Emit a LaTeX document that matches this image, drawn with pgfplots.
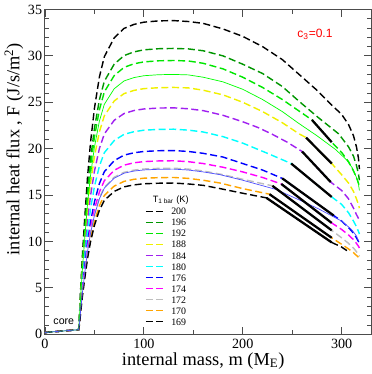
\documentclass[border=0pt]{standalone}
\usepackage{fontspec}
\setmainfont{Liberation Serif}
\setsansfont{Liberation Sans}
\usepackage{pgfplots}
\pgfplotsset{compat=1.18}

\definecolor{cdkgreen}{RGB}{0,150,0}
\definecolor{cgreen}{RGB}{0,230,0}
\definecolor{clime}{RGB}{0,255,0}
\definecolor{cyellow}{RGB}{240,240,0}
\definecolor{cviolet}{RGB}{160,32,240}
\definecolor{ccyan}{RGB}{0,255,255}
\definecolor{cblue}{RGB}{0,0,255}
\definecolor{cmagenta}{RGB}{255,0,255}
\definecolor{cgray}{RGB}{190,190,190}
\definecolor{corange}{RGB}{255,165,0}
\definecolor{cltblue}{RGB}{80,80,255}

\pgfplotsset{
  dsh/.style={dash pattern=on 5pt off 2.5pt, line width=1pt},
  seg/.style={black, line width=1.6pt, forget plot},
}

\begin{document}
\begin{tikzpicture}
\begin{axis}[
    width=231pt, height=230pt, scale only axis,
    xmin=0, xmax=330, ymin=0, ymax=35,
    xtick={0,100,200,300}, minor x tick num=1,
    ytick={0,5,10,15,20,25,30,35}, minor y tick num=4,
    tick align=inside,
    major tick length=5.5pt, minor tick length=3pt,
    axis line style={gray!60!black, line width=0.7pt},
    tick style={gray!60!black, line width=0.6pt},
    /pgf/number format/assume math mode=true,
    tick label style={font=\fontsize{10}{12}\selectfont},
    yticklabel style={xshift=1.5pt},
    label style={font=\fontsize{13}{15}\selectfont},
    xlabel={internal mass, m (M\textsubscript{E})},
    ylabel={internal heat flux , F (J/s/m\textsuperscript{2})},
    xlabel style={at={(axis description cs:0.485,-0.082)}, anchor=center},
    ylabel style={at={(axis description cs:-0.095,0.57)}, anchor=center},
    legend style={at={(axis cs:101,13.7)}, anchor=north west, draw=none, fill=none,
        font=\fontsize{7}{8}\selectfont, inner sep=0pt, row sep=2pt,
        nodes={inner sep=0.5pt, text height=4.8pt, text depth=0pt},
        /tikz/every odd column/.append style={column sep=5pt}},
    legend cell align=left,
    legend image code/.code={\draw[#1] (0pt,0pt) -- (12pt,0pt);},
    clip=false,
]
% T = 200
\addplot[black, dsh] coordinates {
(0,0.2)(34,0.5)(35,2.37)(36,4.73)(38,8.79)(40,12.17)(43,16.9)(46,20.62)(50,24.34)(55,27.72)(60,29.91)(70,31.94)(80,32.96)(90,33.39)(100,33.63)(115,33.77)(130,33.8)
(145,33.7)(160,33.5)(180,32.9)(200,32.1)(220,31.0)(240,29.6)(257,28.0)(275,26.3)(290,24.7)(300,23.7)(307,22.6)(312,21.4)(315,20.2)(317,19.0)(318,17.8)
};
\addlegendentry{200}
% T = 196
\addplot[cdkgreen, dsh] coordinates {
(0,0.2)(34,0.5)(35,2.16)(36,4.31)(38,8.01)(40,11.09)(43,15.4)(46,18.79)(50,22.18)(55,25.26)(60,27.26)(70,29.11)(80,30.03)(90,30.43)(100,30.65)(115,30.77)(130,30.8)
(145,30.75)(160,30.55)(180,30.0)(200,29.1)(220,28.1)(240,26.7)(257,25.1)(277,23.3)(297,21.6)(307,20.2)(312,19.2)(315,18.2)(317,17.3)(318,16.6)
};
\addlegendentry{196}
% T = 192
\addplot[cgreen, dsh] coordinates {
(0,0.2)(34,0.5)(35,2.07)(36,4.13)(38,7.67)(40,10.62)(43,14.75)(46,18.0)(50,21.24)(55,24.19)(60,26.11)(70,27.88)(80,28.76)(90,29.15)(100,29.35)(115,29.47)(130,29.5)
(145,29.45)(160,29.2)(180,28.6)(200,27.7)(220,26.6)(240,25.3)(255,24.2)(270,23.1)(290,20.7)(300,19.6)(307,18.6)(312,17.6)(315,16.9)(317,16.3)(318,15.9)
};
\addlegendentry{192}
% T = 188
\addplot[cyellow, dsh] coordinates {
(0,0.2)(34,0.5)(35,1.86)(36,3.72)(38,6.92)(40,9.58)(43,13.3)(46,16.23)(50,19.15)(55,21.81)(60,23.54)(70,25.14)(80,25.94)(90,26.28)(100,26.47)(115,26.57)(130,26.6)
(145,26.55)(160,26.3)(180,25.8)(200,25.0)(220,24.0)(240,22.8)(257,21.6)(264,21.2)(290,18.4)(300,17.2)(307,16.3)(312,15.4)(315,14.6)(317,14.0)(318,13.6)
};
\addlegendentry{188}
% T = 184
\addplot[cviolet, dsh] coordinates {
(0,0.2)(34,0.5)(35,1.71)(36,3.42)(38,6.34)(40,8.78)(43,12.2)(46,14.88)(50,17.57)(55,20.01)(60,21.59)(70,23.06)(80,23.79)(90,24.11)(100,24.28)(115,24.38)(130,24.4)
(145,24.3)(160,24.1)(180,23.6)(200,22.9)(215,22.3)(229,21.6)(245,20.7)(260,19.7)(289,16.4)(300,15.5)(307,14.6)(312,13.6)(315,12.9)(317,12.5)(318,12.2)
};
\addlegendentry{184}
% T = 180
\addplot[ccyan, dsh] coordinates {
(0,0.2)(34,0.5)(35,1.55)(36,3.09)(38,5.75)(40,7.96)(43,11.05)(46,13.48)(50,15.91)(55,18.12)(60,19.56)(70,20.88)(80,21.55)(90,21.83)(100,21.99)(115,22.08)(130,22.1)
(145,22.0)(160,21.8)(180,21.3)(200,20.6)(225,19.5)(249,18.4)(290,14.8)(300,14.0)(307,13.1)(312,12.2)(315,11.6)(317,11.1)(318,10.8)
};
\addlegendentry{180}
% T = 176
\addplot[cblue, dsh] coordinates {
(0,0.2)(34,0.5)(35,1.39)(36,2.77)(38,5.15)(40,7.13)(43,9.9)(46,12.08)(50,14.26)(55,16.24)(60,17.52)(70,18.71)(80,19.31)(90,19.56)(100,19.7)(115,19.78)(130,19.8)
(145,19.7)(160,19.5)(180,19.1)(200,18.4)(220,17.7)(240,16.8)(292,12.8)(300,12.2)(307,11.5)(312,10.9)(315,10.4)(317,10.0)(318,9.8)
};
\addlegendentry{176}
% T = 174
\addplot[cmagenta, dsh] coordinates {
(0,0.2)(34,0.5)(35,1.31)(36,2.62)(38,4.86)(40,6.73)(43,9.35)(46,11.41)(50,13.46)(55,15.33)(60,16.55)(70,17.67)(80,18.23)(90,18.48)(100,18.61)(115,18.68)(130,18.7)
(145,18.6)(160,18.4)(180,18.0)(200,17.5)(220,16.9)(239,16.2)(290,12.0)(300,11.3)(307,10.7)(312,10.2)(315,9.8)(317,9.5)(318,9.3)
};
\addlegendentry{174}
% T = 172
\addplot[cgray, dsh] coordinates {
(0,0.2)(34,0.5)(35,1.25)(36,2.51)(38,4.65)(40,6.44)(43,8.95)(46,10.92)(50,12.89)(55,14.68)(60,15.84)(70,16.92)(80,17.45)(90,17.69)(100,17.81)(115,17.88)(130,17.9)
(145,17.8)(160,17.6)(180,17.2)(200,16.7)(230,16.0)(290,11.2)(300,10.4)(307,9.8)(312,9.3)(315,8.9)(317,8.6)(318,8.4)
};
\addlegendentry{172}
% T = 170
\addplot[corange, dsh] coordinates {
(0,0.2)(34,0.5)(35,1.18)(36,2.37)(38,4.39)(40,6.08)(43,8.45)(46,10.31)(50,12.17)(55,13.86)(60,14.96)(70,15.97)(80,16.48)(90,16.7)(100,16.82)(115,16.88)(130,16.9)
(145,16.8)(160,16.6)(177,16.3)(200,15.7)(227,15.1)(290,10.4)(300,9.7)(307,9.2)(312,8.8)(315,8.5)(317,8.3)(318,8.1)
};
\addlegendentry{170}
% T = 169
\addplot[black, dsh] coordinates {
(0,0.2)(34,0.5)(35,1.14)(36,2.28)(38,4.24)(40,5.87)(43,8.15)(46,9.94)(50,11.74)(55,13.37)(60,14.43)(70,15.4)(80,15.89)(90,16.1)(100,16.22)(115,16.28)(130,16.3)
(145,16.2)(160,16.05)(177,15.7)(200,15.2)(224,14.7)(290,9.9)(300,9.4)(307,8.9)
};
\addlegendentry{169}
% thin solid curves
\addplot[clime, line width=0.5pt, forget plot] coordinates {
(0,0.2)(34,0.5)(35,1.96)(36,3.92)(38,7.28)(40,10.08)(43,14.0)(46,17.08)(50,20.16)(55,22.96)(60,24.78)(70,26.46)(80,27.3)(90,27.66)(100,27.86)(115,27.97)(130,28.0)
(145,27.95)(160,27.7)(180,27.2)(200,26.4)(220,25.3)(240,24.0)(257,22.7)(275,21.4)(294,19.9)(305,18.8)(311,17.9)(315,16.9)(317,16.2)(318,15.5)
};
\addplot[cltblue, line width=0.5pt, forget plot] coordinates {
(0,0.2)(34,0.5)(35,1.25)(36,2.49)(38,4.63)(40,6.41)(43,8.9)(46,10.86)(50,12.82)(55,14.6)(60,15.75)(70,16.82)(80,17.36)(90,17.59)(100,17.71)(115,17.78)(130,17.8)
(145,17.7)(160,17.5)(177,17.2)(200,16.6)(234,15.6)(267,14.0)(277,13.5)(300,12.2)(310,11.3)(315,10.6)(317,10.1)
};
% black solid segments
\addplot[seg] coordinates {(270,23.1)(290,20.7)};
\addplot[seg] coordinates {(264,21.2)(290,18.4)};
\addplot[seg] coordinates {(260,19.7)(289,16.4)};
\addplot[seg] coordinates {(249,18.4)(290,14.8)};
\addplot[seg] coordinates {(240,16.8)(292,12.8)};
\addplot[seg] coordinates {(239,16.2)(290,12.0)};
\addplot[seg] coordinates {(230,16.0)(290,11.2)};
\addplot[seg] coordinates {(227,15.1)(290,10.4)};
\addplot[seg] coordinates {(224,14.7)(290,9.9)};

\node[anchor=west, font=\sffamily\fontsize{6.5}{7}\selectfont] at (axis cs:104,14.5) {T\textsubscript{1 bar} (K)};
\node[font=\sffamily\fontsize{7.5}{8}\selectfont] at (axis cs:19,1.35) {core};
\node[text=red, font=\sffamily\fontsize{8.5}{9}\selectfont] at (axis cs:273,32.3) {c\textsubscript{3}=0.1};
\end{axis}
\end{tikzpicture}
\end{document}
